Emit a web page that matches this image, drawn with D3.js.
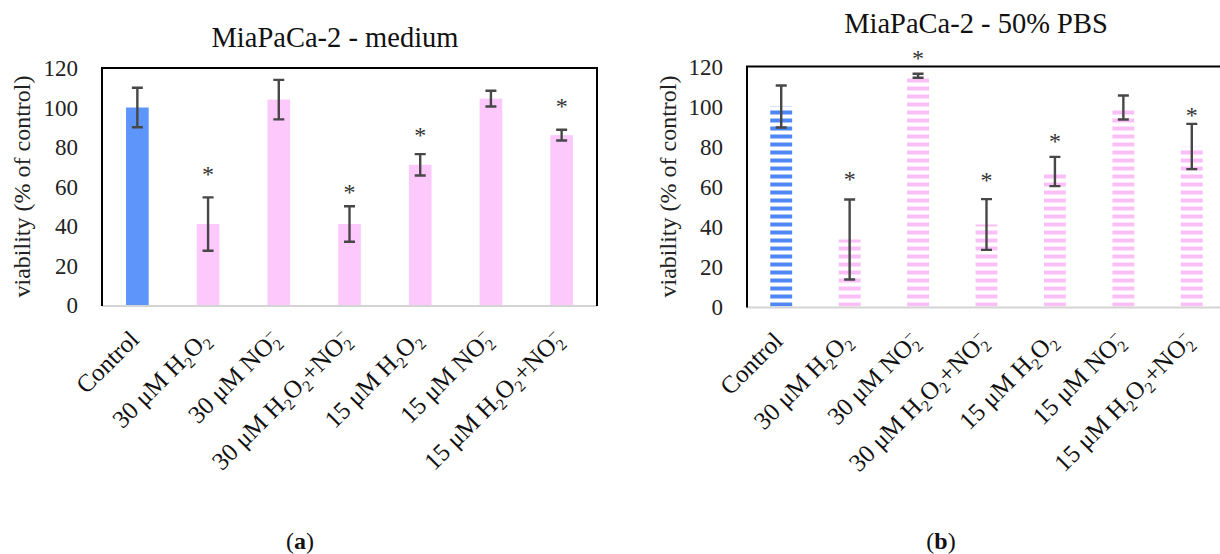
<!DOCTYPE html>
<html>
<head>
<meta charset="utf-8">
<script src="https://cdn.jsdelivr.net/npm/d3@7"></script>
<style>
  body { margin: 0; background: #fff; }
  svg text { font-family: "Liberation Serif", "Times New Roman", serif; }
  .tick-label { font-size: 23px; fill: #222; }
  .axis-title { font-size: 24px; fill: #222; }
  .title { font-size: 28.5px; fill: #111; }
  .cat { font-size: 25px; fill: #111; }
  .star { font-size: 24px; fill: #333; }
</style>
</head>
<body>
<svg id="fig" width="1220" height="554"></svg>
<script>
// categories: "_x" = subscript, "^x" = superscript stacked on the subscript
var categories = ["Control", "30 μM H_2O_2", "30 μM NO_2^−", "30 μM H_2O_2+NO_2^−",
                  "15 μM H_2O_2", "15 μM NO_2^−", "15 μM H_2O_2+NO_2^−"];
var yTicks = [0, 20, 40, 60, 80, 100, 120];

var mediumMean = [100, 41, 104, 41, 71, 104.5, 86];
var mediumErr = [10, 13.5, 10, 9, 5.4, 4, 2.7];
var mediumStar = [null, 68.5, null, 59, 88, null, 103];

var pbsMean = [100, 33.5, 115.4, 41, 67.5, 99.5, 80];
var pbsErr = [10.5, 20, 1, 12.7, 7.3, 6, 11.3];
var pbsStar = [null, 66, 126.5, 65.5, 84.8, null, 97.8];

var blue = "#5e95fa";
var pink = "#fdc9fc";
var errColor = "#474747";

var svg = d3.select("#fig");
var defs = svg.append("defs");

function stripePattern(id, color, y0) {
  var p = defs.append("pattern")
      .attr("id", id)
      .attr("patternUnits", "userSpaceOnUse")
      .attr("width", 8)
      .attr("height", 8)
      .attr("y", y0);
  p.append("rect")
      .attr("width", 8).attr("height", 4)
      .attr("y", 4)
      .attr("fill", color);
}

function addLabel(text, label, fs) {
  var subFs = Math.round(fs * 0.65);
  var parts = label.split(/(_.|\^.)/).filter(function(s) { return s.length; });
  var cur = 0;
  parts.forEach(function(s) {
    var t = text.append("tspan");
    var target;
    if (s[0] === "_") {
      target = fs * 0.22;
      t.attr("font-size", subFs).text(s[1]);
    } else if (s[0] === "^") {
      target = -fs * 0.36;
      t.attr("font-size", subFs).attr("dx", -subFs * 0.5).text(s[1]);
    } else {
      target = 0;
      t.text(s);
    }
    if (target !== cur) t.attr("dy", target - cur);
    cur = target;
  });
}

function drawPanel(o) {
  var x = d3.scaleBand()
      .domain(categories)
      .range([o.left, o.right])
      .paddingInner(0.68)
      .paddingOuter(0.34);
  var y = d3.scaleLinear()
      .domain([0, 120])
      .range([o.bottom, o.top]);

  var rows = categories.map(function(c, i) {
    return {cat: c, v: o.mean[i], e: o.err[i], s: o.star[i], i: i};
  });

  var g = svg.append("g");

  // bars
  g.selectAll("rect.bar")
      .data(rows)
      .enter().append("rect")
          .attr("class", "bar")
          .attr("x", function(d) { return x(d.cat); })
          .attr("width", x.bandwidth())
          .attr("y", function(d) { return y(d.v); })
          .attr("height", function(d) { return y(0) - y(d.v); })
          .attr("fill", function(d) { return d.i === 0 ? o.fill0 : o.fill; });

  // axis frame: grey baseline, black left/top/right
  g.append("line")
      .attr("x1", o.left).attr("x2", o.right)
      .attr("y1", y(0) + 1).attr("y2", y(0) + 1)
      .attr("stroke", "#d4d4d4").attr("stroke-width", 2);
  g.append("path")
      .attr("d", `M ${o.left} ${y(0) + 1} L ${o.left} ${y(120)} L ${o.right} ${y(120)} L ${o.right} ${y(0) + 1}`)
      .attr("fill", "none")
      .attr("stroke", "#000")
      .attr("stroke-width", 2);

  // y axis labels only, no tick marks
  var yAxis = d3.axisLeft(y).tickValues(yTicks).tickSize(0).tickPadding(24);
  var ax = g.append("g")
      .attr("transform", `translate(${o.left}, 0)`)
      .call(yAxis)
      .attr("font-family", null)
      .attr("font-size", null);
  ax.select(".domain").remove();
  ax.selectAll("text")
      .attr("class", "tick-label")
      .attr("dy", "0.34em");

  g.append("text")
      .attr("class", "axis-title")
      .attr("transform", `translate(${o.yTitleX}, ${(y(0) + y(120)) / 2}) rotate(-90)`)
      .attr("text-anchor", "middle")
      .text("viability (% of control)");

  // error bars
  var cap = 5.5;
  var eb = g.selectAll("g.err")
      .data(rows)
      .enter().append("g")
          .attr("class", "err")
          .attr("transform", function(d) {
              return `translate(${x(d.cat) + x.bandwidth() / 2}, 0)`; });
  eb.append("path")
      .attr("d", function(d) { return "" +
          `M ${-cap} ${y(d.v + d.e)} L ${cap} ${y(d.v + d.e)}` +
          `M 0 ${y(d.v + d.e)} L 0 ${y(d.v - d.e)}` +
          `M ${-cap} ${y(d.v - d.e)} L ${cap} ${y(d.v - d.e)}`; })
      .attr("fill", "none")
      .attr("stroke", errColor)
      .attr("stroke-width", 2.4);

  // significance stars
  g.selectAll("text.star")
      .data(rows.filter(function(d) { return d.s != null; }))
      .enter().append("text")
          .attr("class", "star")
          .attr("text-anchor", "middle")
          .attr("x", function(d) { return x(d.cat) + x.bandwidth() / 2; })
          .attr("y", function(d) { return y(d.s); })
          .attr("dy", "0.5em")
          .text("*");

  // rotated category labels
  g.selectAll("text.cat")
      .data(rows)
      .enter().append("text")
          .attr("class", "cat")
          .attr("text-anchor", "end")
          .attr("transform", function(d) {
              return `translate(${x(d.cat) + x.bandwidth() / 2 + 3}, ${y(0) + 36}) rotate(-45)`; })
          .each(function(d) { addLabel(d3.select(this), d.cat, 25); });

  svg.append("text")
      .attr("class", "title")
      .attr("x", o.titleX)
      .attr("y", o.titleY)
      .attr("text-anchor", "middle")
      .text(o.title);

  var lab = svg.append("text")
      .attr("x", o.tagX)
      .attr("y", 549)
      .attr("text-anchor", "middle")
      .attr("font-size", 24)
      .attr("fill", "#111");
  lab.append("tspan").text("(");
  lab.append("tspan").attr("font-weight", "bold").text(o.tag);
  lab.append("tspan").text(")");
}

stripePattern("stripeBlue", "#4f88f5", 66.5);
stripePattern("stripePink", "#fbbff8", 66.5);

drawPanel({
  left: 102, right: 597, top: 68, bottom: 305,
  mean: mediumMean, err: mediumErr, star: mediumStar,
  fill0: blue, fill: pink,
  title: "MiaPaCa-2 - medium", titleX: 335, titleY: 47,
  yTitleX: 30, tag: "a", tagX: 300
});

drawPanel({
  left: 747, right: 1226, top: 66.5, bottom: 306.5,
  mean: pbsMean, err: pbsErr, star: pbsStar,
  fill0: "url(#stripeBlue)", fill: "url(#stripePink)",
  title: "MiaPaCa-2 - 50% PBS", titleX: 976, titleY: 33,
  yTitleX: 676, tag: "b", tagX: 941
});
</script>
</body>
</html>
